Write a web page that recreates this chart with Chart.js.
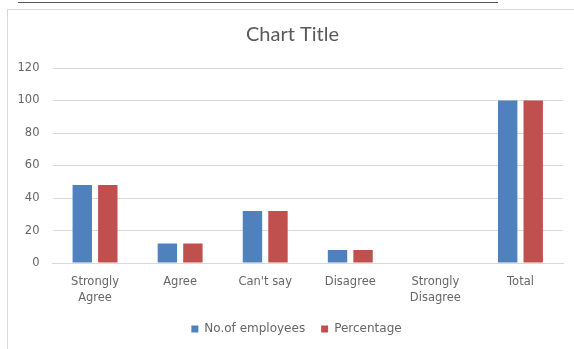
<!DOCTYPE html>
<html>
<head>
<meta charset="utf-8">
<script src="https://cdn.jsdelivr.net/npm/chart.js@4"></script>
<style>
  body { margin: 0; background: #fff; width: 574px; height: 349px; overflow: hidden; position: relative; }
  #topline { position: absolute; left: 18px; top: 2px; width: 480px; height: 0; border-top: 1px solid #555; }
  #frame { position: absolute; left: 7px; top: 9px; width: 580px; height: 360px; border-left: 1px solid #d9d9d9; border-top: 1px solid #d9d9d9; }
  #wrap { position: absolute; left: 8px; top: 10px; width: 566px; height: 339px; }
</style>
</head>
<body>
<div id="topline"></div>
<div id="frame"></div>
<div id="wrap"><canvas id="myChart"></canvas></div>
<script>
var categories = [['Strongly', 'Agree'], 'Agree', "Can't say", 'Disagree', ['Strongly', 'Disagree'], 'Total'];
var employees = [48, 12, 32, 8, 0, 100];
var percentage = [48, 12, 32, 8, 0, 100];

Chart.defaults.font.family = '"DejaVu Sans", sans-serif';
Chart.defaults.color = '#666666';

// nudge title and legend a little to the right, like the original
var nudge = {
    id: 'nudge',
    afterLayout: function (chart) {
        chart.titleBlock.left += 3;
        chart.titleBlock.right += 3;
        chart.legend.left += 7;
        chart.legend.right += 7;
    }
};

var ctx = document.getElementById('myChart').getContext('2d');
var myChart = new Chart(ctx, {
    type: 'bar',
    data: {
        labels: categories,
        datasets: [{
            label: 'No.of employees',
            data: employees,
            backgroundColor: '#4F81BD'
        }, {
            label: 'Percentage',
            data: percentage,
            backgroundColor: '#C0504D'
        }]
    },
    plugins: [nudge],
    options: {
        responsive: true,
        maintainAspectRatio: false,
        animation: false,
        categoryPercentage: 0.6,
        barPercentage: 0.76,
        layout: {
            padding: { left: 8, right: 11, top: 0, bottom: 4 }
        },
        plugins: {
            title: {
                display: true,
                text: 'Chart Title',
                color: '#595959',
                font: { family: 'Lato, sans-serif', size: 20, weight: 'normal' },
                padding: { top: 13, bottom: 21 }
            },
            legend: {
                position: 'bottom',
                labels: {
                    boxWidth: 7,
                    boxHeight: 7,
                    padding: 16,
                    font: { size: 12 }
                }
            },
            tooltip: { enabled: false }
        },
        scales: {
            y: {
                min: 0,
                max: 120,
                ticks: { stepSize: 20, padding: 13, font: { size: 11.5 } },
                grid: { color: '#d9d9d9', drawTicks: false },
                border: { display: false },
                afterFit: function (scale) { scale.width = 36.5; }
            },
            x: {
                ticks: { padding: 11, maxRotation: 0, font: { size: 11.5, lineHeight: 1.39 } },
                grid: { display: false, drawTicks: false },
                border: { color: '#d9d9d9' },
                afterFit: function (scale) { scale.height = scale.height - 10; }
            }
        }
    }
});
</script>
</body>
</html>
